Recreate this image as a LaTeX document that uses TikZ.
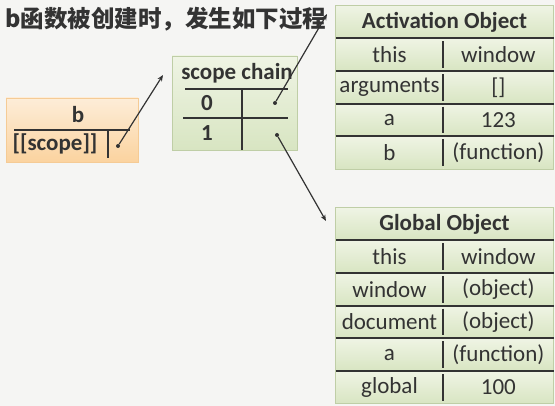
\documentclass[tikz,border=0pt]{standalone}
\usepackage{fontspec}
\setmainfont{Carlito}
\newfontfamily\cjk{Noto Sans CJK SC}
\usetikzlibrary{arrows.meta,positioning,calc}
\definecolor{bgc}{HTML}{F5F5F3}
\definecolor{ink}{HTML}{333333}
\definecolor{orgtop}{HTML}{FDEDD8}
\definecolor{orgbot}{HTML}{FBD39F}
\definecolor{orgline}{HTML}{F5CB95}
\definecolor{grntop}{HTML}{EFF4E4}
\definecolor{grnbot}{HTML}{D8E5C2}
\definecolor{grnline}{HTML}{BFCEA6}
\tikzset{
  txt/.style={font=\fontsize{23}{25}\selectfont,text=ink,inner sep=0pt},
  btxt/.style={txt,font=\fontsize{23}{25}\selectfont\bfseries},
  cell/.style={txt,minimum height=32.3pt,top color=grntop,bottom color=grnbot},
  key/.style={cell,minimum width=107pt},
  val/.style={cell,minimum width=110pt},
  head/.style={cell,btxt,minimum width=217pt},
  orgbox/.style={draw=orgline,line width=0.8pt,top color=orgtop,bottom color=orgbot,
    minimum width=132pt,minimum height=64pt},
  grnbox/.style={draw=grnline,line width=0.8pt,top color=grntop,bottom color=grnbot,
    minimum width=125pt,minimum height=94pt},
  frame/.style={draw=grnline,line width=0.8pt},
  rule/.style={draw=ink,line width=2pt},
  dot/.style={circle,fill=ink,inner sep=0pt,minimum size=4pt},
  ptr/.style={-{Stealth[length=2.2mm,width=1.8mm]},draw=ink,line width=1.2pt},
}
\begin{document}
\begin{tikzpicture}[x=1pt,y=-1pt]
  \fill[bgc] (0,0) rectangle (555,406);
  \useasboundingbox (0,0) rectangle (555,406);

  % title
  \node[anchor=west,text=ink,inner sep=0pt,font=\cjk\bfseries\fontsize{23.5}{26}\selectfont]
    (title) at (5,19) {b函数被创建时，发生如下过程};

  % function b
  \node[orgbox] (bobj) at (72,130) {};
  \node[btxt] (bname) at (78,115) {b};
  \node[btxt] (bscope) at (55,144) {[[scope]]};
  \draw[rule] (14,130) -- (130,130);
  \draw[rule] (108,131) -- (108,158);
  \node[dot] (bdot) at (118,146) {};

  % scope chain
  \node[grnbox] (chain) at (234.5,103) {};
  \node[btxt] (chainname) at (237,73) {scope chain};
  \draw[rule] (185,89) -- (288,89);
  \draw[rule] (183,118) -- (288,118);
  \draw[rule] (242,90) -- (242,150);
  \node[btxt] (zero) at (207,103) {0};
  \node[btxt] (one) at (207,133) {1};
  \node[dot] (dotzero) at (275,103) {};
  \node[dot] (dotone) at (277,135) {};

  % activation object
  \node[head] (aohead) at (444.5,22) {Activation Object};
  \node[key,anchor=north west] (ao1k) at (aohead.south west) {this};
  \node[val,right=0pt of ao1k] (ao1v) {window};
  \node[key,below=0pt of ao1k] (ao2k) {arguments};
  \node[val,right=0pt of ao2k] (ao2v) {[]};
  \node[key,below=0pt of ao2k] (ao3k) {a};
  \node[val,right=0pt of ao3k] (ao3v) {123};
  \node[key,below=0pt of ao3k] (ao4k) {b};
  \node[val,right=0pt of ao4k] (ao4v) {(function)};
  \draw[frame] (aohead.north west) rectangle (ao4v.south east);
  \foreach \r in {1,...,4}{
    \draw[rule] (ao\r k.north west) -- (ao\r v.north east);
    \draw[rule] ([yshift=-3pt]ao\r k.north east) -- ([yshift=3pt]ao\r k.south east);
  }

  % global object
  \node[head] (gohead) at (444.5,224) {Global Object};
  \node[key,anchor=north west] (go1k) at (gohead.south west) {this};
  \node[val,right=0pt of go1k] (go1v) {window};
  \node[key,below=0pt of go1k] (go2k) {window};
  \node[val,right=0pt of go2k] (go2v) {(object)};
  \node[key,below=0pt of go2k] (go3k) {document};
  \node[val,right=0pt of go3k] (go3v) {(object)};
  \node[key,below=0pt of go3k] (go4k) {a};
  \node[val,right=0pt of go4k] (go4v) {(function)};
  \node[key,below=0pt of go4k] (go5k) {global};
  \node[val,right=0pt of go5k] (go5v) {100};
  \draw[frame] (gohead.north west) rectangle (go5v.south east);
  \foreach \r in {1,...,5}{
    \draw[rule] (go\r k.north west) -- (go\r v.north east);
    \draw[rule] ([yshift=-3pt]go\r k.north east) -- ([yshift=3pt]go\r k.south east);
  }

  % pointers
  \coordinate (tochain) at (163,75);
  \coordinate (toao) at (327,14);
  \coordinate (togo) at (326,221);
  \draw[ptr] (bdot) -- (tochain);
  \draw[ptr] (dotzero) -- (toao);
  \draw[ptr] (dotone) -- (togo);
\end{tikzpicture}
\end{document}
